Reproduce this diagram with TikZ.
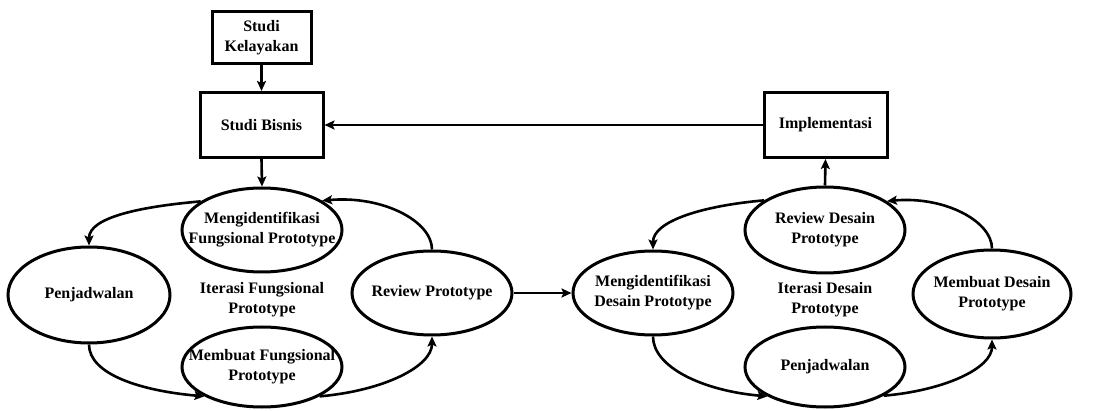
\documentclass[tikz,border=0pt]{standalone}
\usepackage{fontspec}
\setmainfont{Liberation Serif}
\usetikzlibrary{shapes.geometric,arrows.meta}
\begin{document}
\begin{tikzpicture}[x=1pt,y=1pt,
  every node/.style={font=\fontsize{16}{20}\selectfont\bfseries, align=center},
  boxnode/.style={draw, line width=3pt, rectangle, inner sep=0pt},
  ellnode/.style={draw, ellipse, line width=3pt, inner sep=0pt},
  txt/.style={inner sep=0pt},
  arr/.style={line width=2.6pt, -{Stealth[length=10pt,width=9pt,inset=2pt]}},
  topin/.style={out looseness=1.3, in looseness=0.6},
  topout/.style={out looseness=0.6, in looseness=1.3},
]
\useasboundingbox (0,0) rectangle (1096,410);

% boxes
\node[boxnode, minimum width=99pt, minimum height=52pt] (sk) at (261.5,372) {Studi\\Kelayakan};
\node[boxnode, minimum width=123pt, minimum height=65pt] (sb) at (261.5,285) {Studi Bisnis};
\node[boxnode, minimum width=123pt, minimum height=65pt] (imp) at (825.5,285) {Implementasi};

% left cycle
\node[ellnode, minimum width=160pt, minimum height=84pt] (mfp) at (262,180) {};
\node[txt] (mfpt) at (mfp.center) {Mengidentifikasi\\Fungsional Prototype};
\node[ellnode, minimum width=162pt, minimum height=96pt] (pj) at (89,115) {};
\node[txt] (pjt) at (pj.center) {Penjadwalan};
\node[ellnode, minimum width=160pt, minimum height=84pt] (rp) at (432,117) {};
\node[txt] (rpt) at (rp.center) {Review Prototype};
\node[ellnode, minimum width=160pt, minimum height=80pt] (mf) at (262,43) {};
\node[txt] (mft) at (mf.center) {Membuat Fungsional\\Prototype};
\node[txt] (itf) at (262,110) {Iterasi Fungsional\\Prototype};

% right cycle
\node[ellnode, minimum width=160pt, minimum height=86pt] (rdp) at (825,180) {};
\node[txt] (rdpt) at (rdp.center) {Review Desain\\Prototype};
\node[ellnode, minimum width=160pt, minimum height=84pt] (mdp) at (653,117) {};
\node[txt] (mdpt) at (mdp.center) {Mengidentifikasi\\Desain Prototype};
\node[ellnode, minimum width=158pt, minimum height=88pt] (mdes) at (992,116) {};
\node[txt] (mdest) at (mdes.center) {Membuat Desain\\Prototype};
\node[ellnode, minimum width=160pt, minimum height=80pt] (pj2) at (825,43) {};
\node[txt] (pj2t) at (pj2.center) {Penjadwalan};
\node[txt] (itd) at (825,110) {Iterasi Desain\\Prototype};

% straight connectors
\draw[arr] (sk.south) -- (sb.north);
\draw[arr] (sb.south) -- (mfp.north);
\draw[arr] (imp.west) -- (sb.east);
\draw[arr] (rdp.north) -- (imp.south);
\draw[arr] (rp.east) -- (mdp.west);

% left cycle arcs
\draw[arr] (mfp.155) to[out=185,in=90,topin] (pj.north);
\draw[arr] (rp.north) to[out=90,in=5,topout] (mfp.26);
\draw[arr] (pj.south) to[out=270,in=175,topout] (mf.207);
\draw[arr] (mf.333) to[out=5,in=270,topin] (rp.south);

% right cycle arcs
\draw[arr] (rdp.154) to[out=185,in=90,topin] (mdp.north);
\draw[arr] (mdes.north) to[out=90,in=5,topout] (rdp.25);
\draw[arr] (mdp.south) to[out=270,in=175,topout] (pj2.207);
\draw[arr] (pj2.334) to[out=5,in=270,topin] (mdes.south);
\end{tikzpicture}
\end{document}
